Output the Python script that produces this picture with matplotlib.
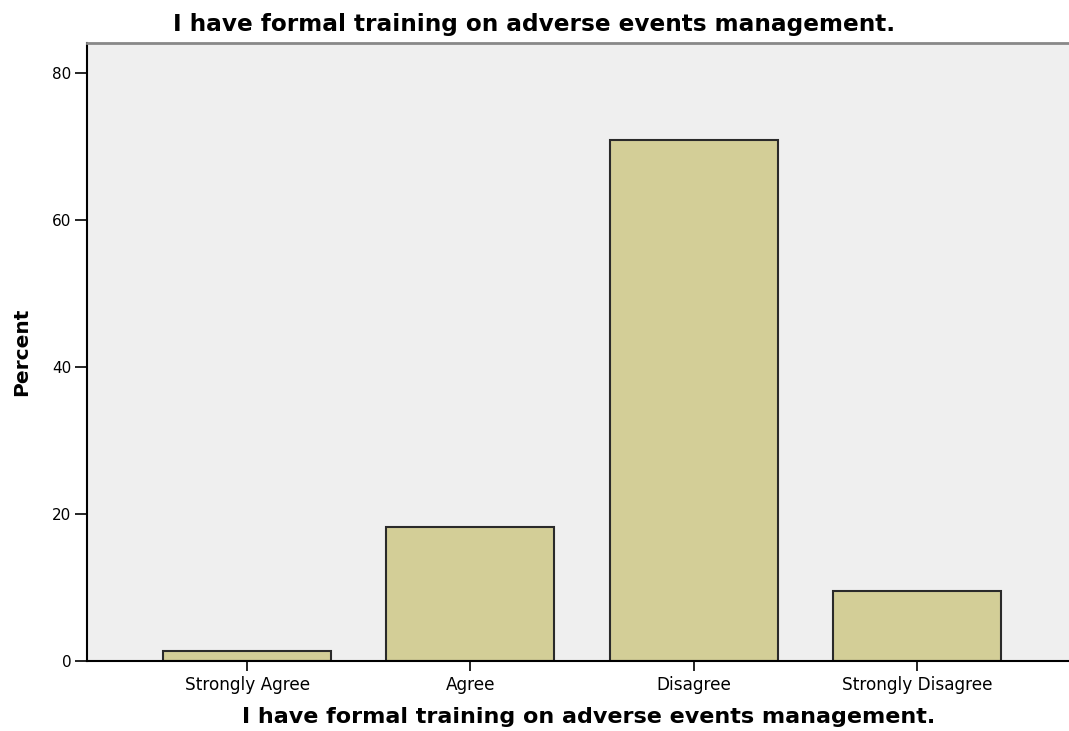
import matplotlib.pyplot as plt

categories = ["Strongly Agree", "Agree", "Disagree", "Strongly Disagree"]
percents = [1.4, 18.2, 70.9, 9.5]
title = "I have formal training on adverse events management."

fig = plt.figure(figsize=(10.69, 7.31), dpi=100)
ax = fig.add_axes([0.081, 0.0958, 0.919, 0.845])
ax.set_facecolor("#efefef")

ax.bar(range(len(categories)), percents, width=0.752, color="#d3ce97",
       edgecolor="#2a2a2a", linewidth=1.5, zorder=2)

ax.set_xlim(-0.719, 3.681)
ax.set_ylim(0, 84.1)
ax.set_yticks([0, 20, 40, 60, 80])
ax.set_xticks(range(len(categories)))
ax.set_xticklabels(categories, fontsize=12.2, family="DejaVu Sans")
for lab in ax.get_yticklabels():
    lab.set_fontsize(11)
    lab.set_family("DejaVu Sans")
ax.tick_params(axis="y", length=8.5, width=1.2, color="black", pad=2.5)
ax.tick_params(axis="x", length=7.5, width=1.2, color="black", pad=3.5)

ax.spines["right"].set_visible(False)
ax.spines["top"].set_color("#888888")
ax.spines["top"].set_linewidth(2)
ax.spines["left"].set_linewidth(1.5)
ax.spines["bottom"].set_linewidth(1.5)

ax.set_ylabel("Percent", fontsize=14.5, fontweight="bold", family="DejaVu Sans", labelpad=15)
ax.set_xlabel(title, fontsize=16, fontweight="bold", family="DejaVu Sans", labelpad=11)
ax.xaxis.set_label_coords(0.511, -0.075)
fig.text(0.5, 0.966, title, ha="center", va="center", fontsize=16.7,
         fontweight="bold", family="DejaVu Sans")

fig.savefig("out.png", dpi=100)
